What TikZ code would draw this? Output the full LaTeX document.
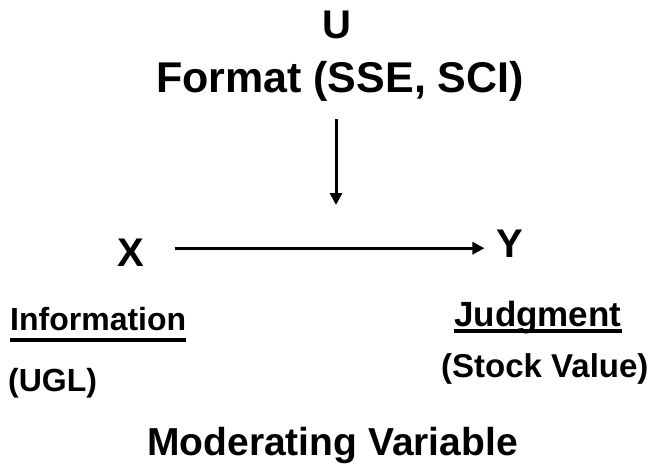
\documentclass[tikz,border=0pt]{standalone}
\usepackage{fontspec}
\setmainfont{Liberation Sans}
\usetikzlibrary{arrows.meta}
\begin{document}
\begin{tikzpicture}[x=1pt,y=-1pt,
		big/.style={font=\fontsize{40}{46}\selectfont\bfseries,inner sep=0pt,anchor=base},
		small/.style={font=\fontsize{32}{38}\selectfont\bfseries,inner sep=0pt,anchor=base west},
		link/.style={line width=3pt,-{Triangle[length=12pt,width=12pt]}},
		uline/.style={line width=3.5pt}]
		\useasboundingbox (0,0) rectangle (660,471);
		
		\node[big] (U) at (337,38) {U};
		\node[big,font=\fontsize{43}{50}\selectfont\bfseries] (format) at (340,92) {Format (SSE, SCI)};
		
		\node[big] (X) at (131,266) {X};
		\node[big] (Y) at (510,257) {Y};
		
		\node[small] (info) at (10,330) {Information};
		\node[small] (ugl) at (8,391) {(UGL)};
		\node[small,font=\fontsize{35}{40}\selectfont\bfseries] (judg) at (454,326) {Judgment};
		\node[small,font=\fontsize{33}{38}\selectfont\bfseries] (stock) at (441,377) {(Stock Value)};
		
		\node[big,font=\fontsize{39}{46}\selectfont\bfseries,anchor=base west] (mod) at (147,455) {Moderating Variable};
		
		\coordinate (hit) at (336,205);
		
		\draw[link,shorten <=30pt,shorten >=12pt] ([yshift=4pt]X.east) -- ([yshift=4pt]X.east -| Y.west);
		\draw[link,shorten <=18pt] (hit |- format.south) -- (hit);
		
		\draw[uline] ([yshift=-10pt]info.base west) -- ([yshift=-10pt]info.base east);
		\draw[uline] ([yshift=-5pt]judg.base west) -- ([yshift=-5pt]judg.base east);
	\end{tikzpicture}
\end{document}
